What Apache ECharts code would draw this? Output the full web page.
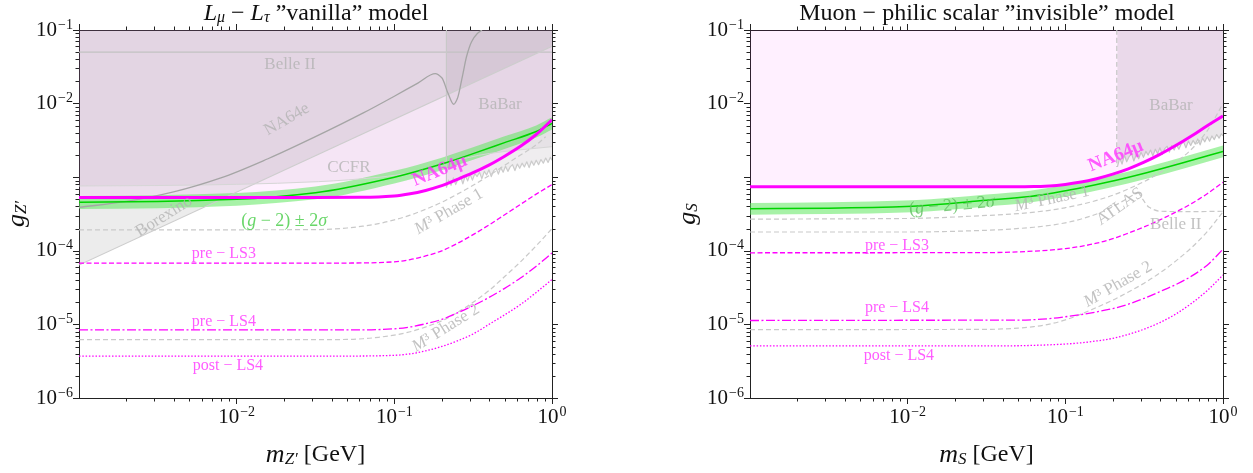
<!DOCTYPE html>
<html><head><meta charset="utf-8">
<script src="https://cdn.jsdelivr.net/npm/echarts@6/dist/echarts.min.js"></script>
<style>html,body{margin:0;padding:0;background:#fff}#c{width:1253px;height:473px}</style>
</head><body><div id="c"></div>
<script>
// ---------------- DATA (m in GeV, g coupling) ----------------
// Left panel: L_mu - L_tau "vanilla"
const L_na64mu = [[1e-3,5.3e-4],[0.01,5.3e-4],[0.0316,5.31e-4],[0.0631,5.35e-4],[0.0794,5.4e-4],[0.1,5.56e-4],[0.126,5.96e-4],[0.158,6.61e-4],[0.2,7.67e-4],[0.251,9.33e-4],[0.316,1.15e-3],[0.398,1.46e-3],[0.501,1.93e-3],[0.631,2.63e-3],[0.794,3.8e-3],[1,6.03e-3]];
const L_g2M      = [1e-3,3.16e-3,0.01,0.0316,0.1,0.2,0.316,0.5,0.794,1];
const L_g2Center = [4.57e-4,4.68e-4,5.01e-4,6.17e-4,1.0e-3,1.51e-3,2.09e-3,2.95e-3,4.17e-3,5.4e-3];
const L_g2Lower  = [3.7e-4,3.8e-4,4.1e-4,5.0e-4,8.2e-4,1.24e-3,1.72e-3,2.42e-3,3.45e-3,4.45e-3];
const L_g2Upper  = [5.55e-4,5.7e-4,6.1e-4,7.5e-4,1.22e-3,1.84e-3,2.55e-3,3.6e-3,5.05e-3,6.5e-3];
const L_ccfr     = [[1e-3,7.6e-4],[3e-3,7.7e-4],[0.01,8.0e-4],[0.033,8.7e-4],[0.08,1.0e-3],[0.13,1.16e-3],[0.21,1.55e-3],[0.4,2.1e-3],[1,2.6e-3]];
const L_borexino = [[1e-3,6.4e-5],[1,0.06]];
const L_belle2   = [[1e-3,0.05],[1,0.05]];
const L_na64e    = [[1e-3,3.89e-4],[2e-3,4.68e-4],[3.98e-3,6.31e-4],[7.94e-3,9.77e-4],[0.0158,1.78e-3],[0.0316,3.55e-3],[0.0631,7.41e-3],[0.1,0.0126],[0.141,0.019],[0.182,0.0255],[0.2,0.0224],[0.219,0.0138],[0.238,0.0098],[0.251,0.0117],[0.269,0.0224],[0.288,0.0447],[0.309,0.0692],[0.335,0.0891],[0.36,0.1]];
const babarM     = [0.214,0.221,0.229,0.237,0.245,0.254,0.263,0.272,0.282,0.292,0.302,0.313,0.324,0.335,0.347,0.359,0.372,0.385,0.398,0.412,0.427,0.442,0.457,0.473,0.490,0.507,0.525,0.543,0.562,0.582,0.603,0.624,0.646,0.668,0.692,0.716,0.741,0.767,0.794,0.822,0.851,0.881,0.912,0.944,0.977,1];
const L_babarG   = [7.24e-4,9.12e-4,7.76e-4,9.77e-4,7.94e-4,9.55e-4,1.02e-3,8.13e-4,1.05e-3,8.91e-4,1.10e-3,9.12e-4,1.12e-3,1.02e-3,1.17e-3,9.55e-4,1.20e-3,1.07e-3,1.26e-3,1.02e-3,1.23e-3,1.32e-3,1.10e-3,1.35e-3,1.17e-3,1.41e-3,1.20e-3,1.38e-3,1.48e-3,1.23e-3,1.51e-3,1.32e-3,1.55e-3,1.38e-3,1.62e-3,1.35e-3,1.66e-3,1.45e-3,1.70e-3,1.48e-3,1.74e-3,1.55e-3,1.82e-3,1.58e-3,1.86e-3,1.70e-3];
const L_m3p1     = [[1e-3,1.93e-4],[0.01,1.93e-4],[0.0316,1.94e-4],[0.0398,1.97e-4],[0.0501,2.04e-4],[0.0631,2.16e-4],[0.0794,2.34e-4],[0.1,2.63e-4],[0.126,3.05e-4],[0.158,3.67e-4],[0.2,4.57e-4],[0.251,5.89e-4],[0.316,7.76e-4],[0.398,1.05e-3],[0.501,1.45e-3],[0.631,2.0e-3],[0.794,2.75e-3],[0.912,3.55e-3]];
const L_m3p2     = [[1e-3,6.2e-6],[0.0316,6.2e-6],[0.0501,6.24e-6],[0.0631,6.38e-6],[0.0794,6.68e-6],[0.1,7.16e-6],[0.126,7.94e-6],[0.158,9.23e-6],[0.2,1.12e-5],[0.251,1.45e-5],[0.316,2.0e-5],[0.398,2.88e-5],[0.501,4.47e-5],[0.631,7.08e-5],[0.794,1.17e-4],[1,2.0e-4]];
const L_preLS3   = [[1e-3,6.8e-5],[0.0316,6.8e-5],[0.0631,6.84e-5],[0.1,7.08e-5],[0.126,7.59e-5],[0.158,8.51e-5],[0.2,1.0e-4],[0.251,1.26e-4],[0.316,1.66e-4],[0.398,2.24e-4],[0.501,3.09e-4],[0.631,4.27e-4],[0.794,5.89e-4],[1,7.94e-4]];
const L_preLS4   = [[1e-3,8.4e-6],[0.0316,8.4e-6],[0.0631,8.41e-6],[0.1,8.71e-6],[0.126,9.23e-6],[0.158,1.02e-5],[0.2,1.17e-5],[0.251,1.43e-5],[0.316,1.8e-5],[0.398,2.32e-5],[0.501,3.09e-5],[0.631,4.27e-5],[0.794,6.17e-5],[1,9.33e-5]];
const L_postLS4  = [[1e-3,3.7e-6],[0.0316,3.7e-6],[0.0631,3.72e-6],[0.1,3.8e-6],[0.126,3.98e-6],[0.158,4.37e-6],[0.2,5.01e-6],[0.251,5.96e-6],[0.316,7.41e-6],[0.398,1.0e-5],[0.501,1.35e-5],[0.631,1.86e-5],[0.794,2.72e-5],[1,4.07e-5]];

// Right panel: muon-philic scalar "invisible"
const R_na64mu   = [[1e-3,7.4e-4],[0.0316,7.4e-4],[0.0501,7.4e-4],[0.0631,7.45e-4],[0.0794,7.62e-4],[0.1,7.98e-4],[0.126,8.59e-4],[0.158,9.55e-4],[0.2,1.10e-3],[0.251,1.30e-3],[0.316,1.60e-3],[0.398,2.04e-3],[0.501,2.69e-3],[0.631,3.63e-3],[0.794,5.01e-3],[1,6.79e-3]];
const R_g2M      = [1e-3,3.16e-3,0.0107,0.0316,0.0597,0.106,0.187,0.332,0.587,1];
const R_g2Center = [3.72e-4,3.8e-4,4.04e-4,4.85e-4,5.46e-4,6.68e-4,8.59e-4,1.16e-3,1.62e-3,2.24e-3];
const R_g2Lower  = [3.1e-4,3.15e-4,3.35e-4,4.0e-4,4.53e-4,5.54e-4,7.13e-4,9.63e-4,1.34e-3,1.86e-3];
const R_g2Upper  = [4.45e-4,4.55e-4,4.85e-4,5.8e-4,6.55e-4,8.0e-4,1.03e-3,1.39e-3,1.94e-3,2.69e-3];
const R_babarG   = [1.38e-3,1.82e-3,1.51e-3,2.00e-3,1.62e-3,1.91e-3,2.09e-3,1.66e-3,2.04e-3,1.78e-3,2.19e-3,1.86e-3,2.24e-3,2.00e-3,2.34e-3,1.95e-3,2.40e-3,2.09e-3,2.51e-3,2.04e-3,2.45e-3,2.63e-3,2.19e-3,2.69e-3,2.34e-3,2.75e-3,2.40e-3,2.82e-3,3.02e-3,2.51e-3,3.09e-3,2.69e-3,3.16e-3,2.82e-3,3.31e-3,2.75e-3,3.39e-3,3.02e-3,3.55e-3,3.09e-3,3.63e-3,3.24e-3,3.80e-3,3.39e-3,3.89e-3,3.63e-3];
const R_m3p1     = [[1e-3,2.69e-4],[0.01,2.75e-4],[0.0316,3.02e-4],[0.0501,3.2e-4],[0.0794,3.55e-4],[0.1,3.85e-4],[0.126,4.27e-4],[0.158,4.84e-4],[0.2,5.69e-4],[0.251,6.92e-4],[0.316,8.71e-4],[0.398,1.15e-3],[0.501,1.58e-3],[0.631,2.4e-3],[0.794,4.27e-3],[1,1.0e-2]];
const R_atlas    = [[1e-3,1.8e-4],[0.01,1.8e-4],[0.0316,1.9e-4],[0.063,2.09e-4],[0.1,2.4e-4],[0.158,3.16e-4],[0.2,3.98e-4],[0.251,5.25e-4],[0.29,6.3e-4]];
const R_belle2   = [[0.29,6.3e-4],[0.31,5.0e-4],[0.34,3.9e-4],[0.4,3.45e-4],[0.6,3.4e-4],[1,3.45e-4]];
const R_m3p2     = [[1e-3,8.5e-6],[0.0316,8.55e-6],[0.0398,8.67e-6],[0.0501,8.91e-6],[0.0631,9.33e-6],[0.0794,1.01e-5],[0.1,1.15e-5],[0.126,1.38e-5],[0.158,1.70e-5],[0.2,2.14e-5],[0.251,2.75e-5],[0.316,3.63e-5],[0.398,5.01e-5],[0.501,7.24e-5],[0.631,1.10e-4],[0.794,1.82e-4],[1,3.39e-4]];
const R_preLS3   = [[1e-3,9.4e-5],[0.0316,9.44e-5],[0.0501,9.66e-5],[0.0631,9.89e-5],[0.0794,1.02e-4],[0.1,1.07e-4],[0.126,1.15e-4],[0.158,1.27e-4],[0.2,1.46e-4],[0.251,1.74e-4],[0.316,2.11e-4],[0.398,2.63e-4],[0.501,3.35e-4],[0.631,4.37e-4],[0.794,5.96e-4],[1,8.51e-4]];
const R_preLS4   = [[1e-3,1.13e-5],[0.0316,1.14e-5],[0.0501,1.14e-5],[0.0631,1.16e-5],[0.0794,1.2e-5],[0.1,1.27e-5],[0.126,1.36e-5],[0.158,1.48e-5],[0.2,1.64e-5],[0.251,1.88e-5],[0.316,2.26e-5],[0.398,2.79e-5],[0.501,3.47e-5],[0.631,4.52e-5],[0.794,6.38e-5],[1,1.05e-4]];
const R_postLS4  = [[1e-3,5.1e-6],[0.0316,5.1e-6],[0.0501,5.13e-6],[0.0631,5.19e-6],[0.0794,5.28e-6],[0.1,5.41e-6],[0.126,5.62e-6],[0.158,5.96e-6],[0.2,6.46e-6],[0.251,7.33e-6],[0.316,8.61e-6],[0.398,1.06e-5],[0.501,1.38e-5],[0.631,1.93e-5],[0.794,2.88e-5],[1,4.68e-5]];

// annotation texts with anchor (m, g)
const L_labels = [
  {t:'Belle II', m:0.0218, g:0.0335, c:'gray'},
  {t:'NA64e', m:0.0208, g:6.1e-3, c:'gray', r:30},
  {t:'CCFR', m:0.0515, g:1.34e-3, c:'gray'},
  {t:'BaBar', m:0.468, g:9.6e-3, c:'gray'},
  {t:'Borexino', m:3.46e-3, g:2.93e-4, c:'gray', r:32},
  {t:'NA64μ', m:0.194, g:1.22e-3, c:'mag', r:22, b:true},
  {t:'({i|g} − 2) ± 2{i|σ}', m:0.02, g:2.5e-4, c:'green'},
  {t:'{i|M}³ Phase 1', m:0.222, g:3.41e-4, c:'gray', r:30},
  {t:'pre − LS3', m:8.3e-3, g:8.97e-5, c:'mag'},
  {t:'pre − LS4', m:8.3e-3, g:1.1e-5, c:'mag'},
  {t:'post − LS4', m:8.8e-3, g:2.72e-6, c:'mag'},
  {t:'{i|M}³ Phase 2', m:0.212, g:8.9e-6, c:'gray', r:32}
];
const R_labels = [
  {t:'BaBar', m:0.468, g:9.3e-3, c:'gray'},
  {t:'NA64μ', m:0.209, g:1.93e-3, c:'mag', r:22, b:true},
  {t:'ATLAS', m:0.222, g:3.98e-4, c:'gray', r:35},
  {t:'Belle II', m:0.502, g:2.24e-4, c:'gray'},
  {t:'{i|M}³ Phase 1', m:0.0822, g:5.06e-4, c:'gray', r:12},
  {t:'({i|g} − 2) ± 2{i|σ}', m:0.0191, g:4.09e-4, c:'green2', r:5},
  {t:'pre − LS3', m:8.55e-3, g:1.18e-4, c:'mag'},
  {t:'pre − LS4', m:8.55e-3, g:1.69e-5, c:'mag'},
  {t:'post − LS4', m:8.8e-3, g:3.8e-6, c:'mag'},
  {t:'{i|M}³ Phase 2', m:0.216, g:3.5e-5, c:'gray', r:30}
];

// ---------------- STYLE / BUILD ----------------
const FONT = 'Liberation Serif';
const MAG = '#ff00ff', GREEN = '#00d400';
const COLORS = {gray: '#b3b3b3', mag: '#ff33ff', green: '#44cc44', green2: '#5cbf5c'};
const SIZES = {gray: 17, mag: 16, green: 18, green2: 18};
const XMIN = 1e-3, XMAX = 1, YMIN = 1e-6, YMAX = 0.1;
const zip = (a, b) => a.map((v, i) => [v, b[i]]);

// monotone cubic (pixel space) segments, for smooth rendering between read points
function monoSegs(P) {
  const n = P.length, h = [], d = [], m = new Array(n), segs = [];
  for (let k = 0; k < n - 1; k++) { h[k] = P[k + 1][0] - P[k][0]; d[k] = (P[k + 1][1] - P[k][1]) / h[k]; }
  m[0] = d[0]; m[n - 1] = d[n - 2];
  for (let k = 1; k < n - 1; k++) {
    if (d[k - 1] * d[k] <= 0) m[k] = 0;
    else { const w1 = 2 * h[k] + h[k - 1], w2 = h[k] + 2 * h[k - 1]; m[k] = (w1 + w2) / (w1 / d[k - 1] + w2 / d[k]); }
  }
  for (let k = 0; k < n - 1; k++) {
    segs.push([P[k], [P[k][0] + h[k] / 3, P[k][1] + m[k] * h[k] / 3], [P[k + 1][0] - h[k] / 3, P[k + 1][1] - m[k + 1] * h[k] / 3], P[k + 1]]);
  }
  return segs;
}
function linSegs(P) {
  const s = [];
  for (let k = 0; k < P.length - 1; k++) s.push([P[k], P[k], P[k + 1], P[k + 1]]);
  return s;
}
const f = v => v.toFixed(2);
function toPath(segs, move) {
  let d = move ? 'M' + f(segs[0][0][0]) + ',' + f(segs[0][0][1]) : ' L' + f(segs[0][0][0]) + ',' + f(segs[0][0][1]);
  segs.forEach(s => { d += ' C' + f(s[1][0]) + ',' + f(s[1][1]) + ' ' + f(s[2][0]) + ',' + f(s[2][1]) + ' ' + f(s[3][0]) + ',' + f(s[3][1]); });
  return d;
}
const revSegs = segs => segs.slice().reverse().map(s => [s[3], s[2], s[1], s[0]]);

function curve(gi, pts, o) {
  return {
    type: 'custom', xAxisIndex: gi, yAxisIndex: gi, silent: true, animation: false, clip: true, z: o.z || 3,
    data: [pts[0]],
    renderItem(params, api) {
      const cs = params.coordSys;
      const P = pts.map(p => api.coord(p));
      const segs = o.smooth === false ? linSegs(P) : monoSegs(P);
      let d = toPath(segs, true);
      if (o.mode === 'above') {
        d += ' L' + f(P[P.length - 1][0]) + ',' + f(cs.y) + ' L' + f(P[0][0]) + ',' + f(cs.y) + ' Z';
        return {type: 'path', shape: {pathData: d}, style: {fill: o.fill, stroke: 'none'}};
      }
      if (o.mode === 'band') {
        const Q = o.lower.map(p => api.coord(p));
        d += toPath(revSegs(monoSegs(Q)), false) + ' Z';
        return {type: 'path', shape: {pathData: d}, style: {fill: o.fill, stroke: 'none'}};
      }
      return {type: 'path', shape: {pathData: d},
        style: {fill: 'none', stroke: o.color, lineWidth: o.width, lineDash: o.dash || null, lineCap: 'butt', lineJoin: 'round'}};
    }
  };
}
const lineC = (gi, pts, color, width, dash, z, smooth) => curve(gi, pts, {color, width, dash, z, smooth});
const fillAbove = (gi, pts, fill, smooth) => curve(gi, pts, {mode: 'above', fill, z: 1, smooth});
const band = (gi, m, lo, up, fill) => curve(gi, zip(m, up), {mode: 'band', lower: zip(m, lo), fill, z: 2});

function labels(gi, arr) {
  return {
    type: 'scatter', xAxisIndex: gi, yAxisIndex: gi, symbolSize: 0, silent: true, z: 30, animation: false,
    data: arr.map(a => {
      const size = a.b ? 19 : SIZES[a.c];
      return {
        value: [a.m, a.g],
        label: {
          show: true, position: 'inside', formatter: a.t, rotate: a.r || 0,
          color: COLORS[a.c], fontFamily: FONT, fontSize: size,
          fontWeight: a.b ? 'bold' : 'normal', align: 'center', verticalAlign: 'middle',
          rich: {i: {fontFamily: FONT, fontStyle: 'italic', fontSize: size, color: COLORS[a.c]}}
        }
      };
    })
  };
}
const XMINOR = [], YMINOR = [];
for (let k = -3; k < 0; k++) for (let j = 2; j < 10; j++) XMINOR.push(j * Math.pow(10, k));
for (let k = -6; k < -1; k++) for (let j = 2; j < 10; j++) YMINOR.push(j * Math.pow(10, k));
function seg(x1, y1, x2, y2) {
  return {type: 'line', shape: {x1, y1, x2, y2}, style: {stroke: '#222', lineWidth: 1}};
}
function minorTicks(gi) {
  return {
    type: 'custom', xAxisIndex: gi, yAxisIndex: gi, silent: true, z: 40, clip: false, animation: false,
    data: [[0.01, 1e-3]],
    renderItem(params, api) {
      const cs = params.coordSys, L = 3.5, ch = [];
      const bot = cs.y + cs.height, top = cs.y, lef = cs.x, rig = cs.x + cs.width;
      XMINOR.forEach(m => {
        const x = Math.round(api.coord([m, 1e-3])[0]) + 0.5;
        ch.push(seg(x, bot, x, bot + L), seg(x, top, x, top - L));
      });
      YMINOR.forEach(g => {
        const y = Math.round(api.coord([0.01, g])[1]) + 0.5;
        ch.push(seg(lef, y, lef - L, y), seg(rig, y, rig + L, y));
      });
      return {type: 'group', children: ch};
    }
  };
}
function tickFmt(v) {
  const e = Math.round(Math.log10(v));
  if (v < 0.0015 && v > 0.0005) return '';
  return '{b|10}{s|' + (e < 0 ? '−' : '') + Math.abs(e) + '}';
}
const TICK_RICH = {
  b: {fontFamily: FONT, fontSize: 21, color: '#111', lineHeight: 24},
  s: {fontFamily: FONT, fontSize: 14, color: '#111', verticalAlign: 'top', lineHeight: 14, padding: [0, 0, 0, 1]}
};
const NAME_RICH = {
  i: {fontFamily: FONT, fontStyle: 'italic', fontSize: 26, color: '#111'},
  s: {fontFamily: FONT, fontStyle: 'italic', fontSize: 17, color: '#111', verticalAlign: 'bottom', padding: [9, 0, 0, 0]},
  r: {fontFamily: FONT, fontSize: 24, color: '#111'}
};
function xAxes(gi, name) {
  return [
    {type: 'log', logBase: 10, gridIndex: gi, min: XMIN, max: XMAX, position: 'bottom',
     axisLine: {show: true, lineStyle: {color: '#222', width: 1}},
     axisTick: {show: true, length: 6, lineStyle: {color: '#222'}},
     splitLine: {show: false},
     axisLabel: {formatter: tickFmt, rich: TICK_RICH, margin: 7, showMinLabel: false},
     name, nameLocation: 'middle', nameGap: 44, nameTextStyle: {rich: NAME_RICH, fontFamily: FONT, fontSize: 24, color: '#111'}},
    {type: 'log', logBase: 10, gridIndex: gi, min: XMIN, max: XMAX, position: 'top',
     axisLine: {show: true, lineStyle: {color: '#222', width: 1}},
     axisTick: {show: true, length: 6, lineStyle: {color: '#222'}},
     splitLine: {show: false}, axisLabel: {show: false}}
  ];
}
function yAxes(gi, name) {
  return [
    {type: 'log', logBase: 10, gridIndex: gi, min: YMIN, max: YMAX, position: 'left',
     axisLine: {show: true, lineStyle: {color: '#222', width: 1}},
     axisTick: {show: true, length: 6, lineStyle: {color: '#222'}},
     splitLine: {show: false},
     axisLabel: {formatter: tickFmt, rich: TICK_RICH, margin: 6},
     name, nameLocation: 'middle', nameGap: 49, nameRotate: 90, nameTextStyle: {rich: NAME_RICH, fontFamily: FONT, fontSize: 24, color: '#111'}},
    {type: 'log', logBase: 10, gridIndex: gi, min: YMIN, max: YMAX, position: 'right',
     axisLine: {show: true, lineStyle: {color: '#222', width: 1}},
     axisTick: {show: true, length: 6, lineStyle: {color: '#222'}},
     splitLine: {show: false}, axisLabel: {show: false}}
  ];
}

// colours of excluded regions (semi-transparent, they overlap)
const PINK = 'rgba(255,0,255,0.06)';
const BOREX = 'rgba(128,128,128,0.15)';
const CCFR = 'rgba(115,90,115,0.07)';
const BABAR_L = 'rgba(120,110,120,0.12)';
const BABAR_R = 'rgba(115,85,115,0.15)';
const GBAND = 'rgba(95,232,95,0.55)';
const GRAYLINE = '#c9c9c9';
const DASH = [5, 3], DASH_M = [5, 2.5], DASHDOT = [9, 2.5, 2, 2.5], DOT = [1.5, 1.8];

const babarL = zip(babarM, L_babarG);
const babarR = zip(babarM, R_babarG);

const series = [
  // ---- left (grid 0)
  fillAbove(0, L_na64mu, PINK),
  fillAbove(0, L_borexino, BOREX, false),
  fillAbove(0, L_ccfr, CCFR),
  fillAbove(0, babarL, BABAR_L, false),
  band(0, L_g2M, L_g2Lower, L_g2Upper, GBAND),
  lineC(0, L_belle2, '#c2c2c2', 1.3, null, 3, false),
  lineC(0, L_borexino, '#cdcdcd', 1.2, null, 3, false),
  lineC(0, L_ccfr, '#d6d6d6', 1, null, 3),
  lineC(0, L_na64e, '#a5a5a5', 1.3, null, 4),
  lineC(0, [[0.214, 0.1], [0.214, 7.24e-4]], '#c8c8c8', 1.2, null, 3, false),
  lineC(0, babarL, '#cbcbcb', 1.2, null, 3, false),
  lineC(0, L_m3p1, GRAYLINE, 1.2, DASH, 4),
  lineC(0, L_m3p2, GRAYLINE, 1.2, DASH, 4),
  lineC(0, zip(L_g2M, L_g2Center), GREEN, 1.5, null, 5),
  lineC(0, L_preLS3, MAG, 1.3, DASH_M, 6),
  lineC(0, L_preLS4, MAG, 1.3, DASHDOT, 6),
  lineC(0, L_postLS4, MAG, 1.3, DOT, 6),
  lineC(0, L_na64mu, MAG, 3, null, 7),
  labels(0, L_labels),
  minorTicks(0),
  // ---- right (grid 1)
  fillAbove(1, R_na64mu, PINK),
  fillAbove(1, babarR, BABAR_R, false),
  band(1, R_g2M, R_g2Lower, R_g2Upper, GBAND),
  lineC(1, [[0.212, 0.1], [0.212, 1.38e-3]], '#c4c4c4', 1.2, DASH, 3, false),
  lineC(1, babarR, '#c6c6c6', 1.2, null, 3, false),
  lineC(1, R_m3p1, GRAYLINE, 1.2, DASH, 4),
  lineC(1, R_atlas, GRAYLINE, 1.2, DASH, 4),
  lineC(1, R_belle2, GRAYLINE, 1.2, DASH, 4),
  lineC(1, R_m3p2, GRAYLINE, 1.2, DASH, 4),
  lineC(1, zip(R_g2M, R_g2Center), GREEN, 1.5, null, 5),
  lineC(1, R_preLS3, MAG, 1.3, DASH_M, 6),
  lineC(1, R_preLS4, MAG, 1.3, DASHDOT, 6),
  lineC(1, R_postLS4, MAG, 1.3, DOT, 6),
  lineC(1, R_na64mu, MAG, 3, null, 7),
  labels(1, R_labels),
  minorTicks(1)
];

const [xl0, xl1] = xAxes(0, '{i|m}{s|Z′} {r|[GeV]}');
const [xr0, xr1] = xAxes(1, '{i|m}{s|S} {r|[GeV]}');
const [yl0, yl1] = yAxes(0, '{i|g}{s|Z′}');
const [yr0, yr1] = yAxes(1, '{i|g}{s|S}');

const TITLE_RICH = {
  i: {fontFamily: FONT, fontStyle: 'italic', fontSize: 24, color: '#111'},
  s: {fontFamily: FONT, fontStyle: 'italic', fontSize: 16, color: '#111', verticalAlign: 'bottom', padding: [8, 0, 0, 0]}
};
const chart = echarts.init(document.getElementById('c'), null, {renderer: 'canvas'});
chart.setOption({
  backgroundColor: '#ffffff',
  animation: false,
  textStyle: {fontFamily: FONT},
  grid: [
    {left: 79, top: 30, width: 473, height: 379, containLabel: false},
    {left: 750, top: 30, width: 473, height: 379, containLabel: false}
  ],
  xAxis: [xl0, xr0, xl1, xr1],
  yAxis: [yl0, yr0, yl1, yr1],
  series,
  graphic: [
    {type: 'text', x: 316, y: 14, style: {text: '{i|L}{s|μ} − {i|L}{s|τ} ”vanilla” model', rich: TITLE_RICH,
      fontFamily: FONT, fontSize: 24, fill: '#111', align: 'center', verticalAlign: 'middle'}},
    {type: 'text', x: 987, y: 14, style: {text: 'Muon − philic scalar ”invisible” model',
      fontFamily: FONT, fontSize: 24, fill: '#111', align: 'center', verticalAlign: 'middle'}}
  ]
});
</script></body></html>
